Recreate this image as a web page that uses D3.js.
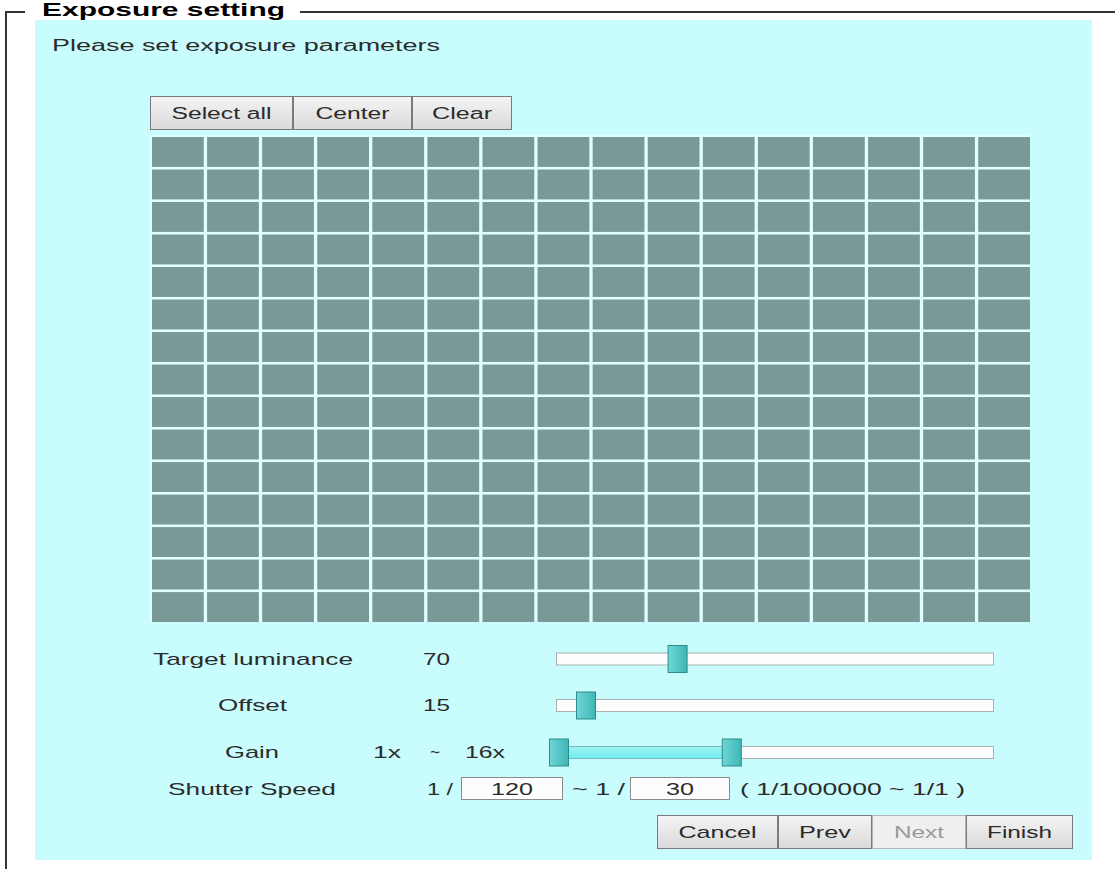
<!DOCTYPE html>
<html><head><meta charset="utf-8">
<script src="https://cdn.jsdelivr.net/npm/d3@7"></script>
<style>html,body{margin:0;padding:0;background:#fff;}svg{display:block;font-family:"Liberation Sans",Arial,sans-serif;}</style>
</head><body>
<svg id="c" width="1115" height="869"></svg>
<script>
// ---- data ----
const title = "Exposure setting";
const prompt = "Please set exposure parameters";
const topButtons = ["Select all", "Center", "Clear"];
const gridCols = d3.range(16);
const gridRows = d3.range(15);
const sliderLabels = ["Target luminance", "Offset", "Gain"];
const luminanceValue = 70;
const offsetValue = 15;
const gainRange = [1, 16];
const gainLabels = ["1x", "~", "16x"];
const shutterLabel = "Shutter Speed";
const shutterValues = [120, 30];
const shutterLimits = "( 1/1000000 ~ 1/1 )";
const bottomButtons = ["Cancel", "Prev", "Next", "Finish"];
const disabledButtons = ["Next"];

const svg = d3.select("#c");
const defs = svg.append("defs");
const g1 = defs.append("linearGradient").attr("id","btn").attr("x1",0).attr("y1",0).attr("x2",0).attr("y2",1);
g1.append("stop").attr("offset","0%").attr("stop-color","#f4f4f4");
g1.append("stop").attr("offset","100%").attr("stop-color","#dadada");
const g2 = defs.append("linearGradient").attr("id","hdl").attr("x1",0).attr("y1",0).attr("x2",1).attr("y2",0);
g2.append("stop").attr("offset","0%").attr("stop-color","#6fd6d6");
g2.append("stop").attr("offset","100%").attr("stop-color","#3fb6b6");
const g3 = defs.append("linearGradient").attr("id","rng").attr("x1",0).attr("y1",0).attr("x2",0).attr("y2",1);
g3.append("stop").attr("offset","0%").attr("stop-color","#9ff4f4");
g3.append("stop").attr("offset","100%").attr("stop-color","#6eecf0");

function txt(s, x, y, w, opts={}) {
  const t = svg.append("text").attr("x", x).attr("y", y).text(s)
    .attr("font-size", opts.size || 16).attr("fill", opts.color || "#2b2b2b")
    .attr("textLength", w).attr("lengthAdjust", "spacingAndGlyphs");
  if (opts.bold) t.attr("font-weight", "bold");
  return t;
}

// fieldset border
svg.append("path").attr("d","M6,869 V12 H25 M300,12 H1115").attr("fill","none").attr("stroke","#333").attr("stroke-width",2);
txt(title, 42, 16, 243, {bold:true, size:18, color:"#000"});

// panel
svg.append("rect").attr("x",35).attr("y",20).attr("width",1057).attr("height",840).attr("fill","#c9fcfc");
txt(prompt, 52, 51, 388, {size:16});

// top buttons
const topX = [150, 293, 412, 512];
const topW = [100, 74, 60];
topButtons.forEach((b,i) => {
  svg.append("rect").attr("x",topX[i]+0.5).attr("y",96.5).attr("width",topX[i+1]-topX[i]-1).attr("height",33)
    .attr("fill","url(#btn)").attr("stroke","#7a7a7a");
  txt(b, (topX[i]+topX[i+1])/2 - topW[i]/2, 119, topW[i], {size:16});
});

// grid
const xb = d3.scaleBand().domain(gridCols).range([152, 1030]).paddingInner(0.06);
const yb = d3.scaleBand().domain(gridRows).range([137, 622]).paddingInner(0.08);
svg.append("rect").attr("x",150).attr("y",135).attr("width",880).attr("height",487).attr("fill","#dcffff");
const cells = [];
gridRows.forEach(r => gridCols.forEach(c => cells.push({r, c})));
svg.append("g").selectAll("rect").data(cells).join("rect")
  .attr("x", d => xb(d.c)).attr("y", d => yb(d.r))
  .attr("width", xb.bandwidth()).attr("height", yb.bandwidth())
  .attr("fill", "#7a9896");

// sliders
const trackX0 = 556, trackX1 = 994;
const lumScale = d3.scaleLinear().domain([0,255]).range([559, 991]);
const offScale = d3.scaleLinear().domain([0,240]).range([559, 991]);
const gainScale = d3.scaleLog().base(2).domain([1,1024]).range([559, 991]);
const trackY = [659, 705.5, 752.5];
function track(cy){
  svg.append("rect").attr("x",trackX0+0.5).attr("y",cy-6).attr("width",trackX1-trackX0-1).attr("height",12)
    .attr("fill","#fdfdfd").attr("stroke","#a8b0b0");
}
function handle(cx, cy){
  svg.append("rect").attr("x",cx-9.5).attr("y",cy-13.5).attr("width",19).attr("height",27)
    .attr("fill","url(#hdl)").attr("stroke","#2f8c8c");
}
trackY.forEach(track);
// gain range fill
svg.append("rect").attr("x",gainScale(gainRange[0])).attr("y",trackY[2]-6).attr("width",gainScale(gainRange[1])-gainScale(gainRange[0])).attr("height",12)
  .attr("fill","url(#rng)").attr("stroke","#7fb8bc");
handle(lumScale(luminanceValue), trackY[0]);
handle(offScale(offsetValue), trackY[1]);
handle(gainScale(gainRange[0]), trackY[2]);
handle(gainScale(gainRange[1]), trackY[2]);

// slider labels
txt(sliderLabels[0], 153, 665, 200, {size:17});
txt(String(luminanceValue), 423, 665, 27, {size:17});
txt(sliderLabels[1], 218, 711, 69, {size:17});
txt(String(offsetValue), 423, 711, 27, {size:17});
txt(sliderLabels[2], 225, 758, 54, {size:17});
txt(gainLabels[0], 373, 758, 28, {size:17});
txt(gainLabels[1], 430, 758, 10, {size:17});
txt(gainLabels[2], 465, 758, 40, {size:17});

// shutter speed
txt(shutterLabel, 168, 795, 168, {size:17});
txt("1 /", 427, 795, 26, {size:17});
const boxes = [[461, 563], [630, 730]];
const valW = [42, 28];
boxes.forEach((b,i) => {
  svg.append("rect").attr("x",b[0]+0.5).attr("y",777.5).attr("width",b[1]-b[0]-1).attr("height",22)
    .attr("fill","#fefefe").attr("stroke","#8a8a8a");
  txt(String(shutterValues[i]), (b[0]+b[1])/2 - valW[i]/2, 795, valW[i], {size:17});
});
txt("~ 1 /", 572, 795, 53, {size:17});
txt(shutterLimits, 740, 795, 225, {size:17});

// bottom buttons
const botX = [657, 778, 872, 966, 1073];
const botW = [78, 52, 50, 65];
bottomButtons.forEach((b,i) => {
  const dis = disabledButtons.includes(b);
  svg.append("rect").attr("x",botX[i]+0.5).attr("y",815.5).attr("width",botX[i+1]-botX[i]-1).attr("height",33)
    .attr("fill", dis ? "#efefef" : "url(#btn)").attr("stroke", dis ? "#b5b5b5" : "#7a7a7a");
  txt(b, (botX[i]+botX[i+1])/2 - botW[i]/2, 838, botW[i], {size:17, color: dis ? "#9a9a9a" : "#2b2b2b"});
});
</script>
</body></html>
